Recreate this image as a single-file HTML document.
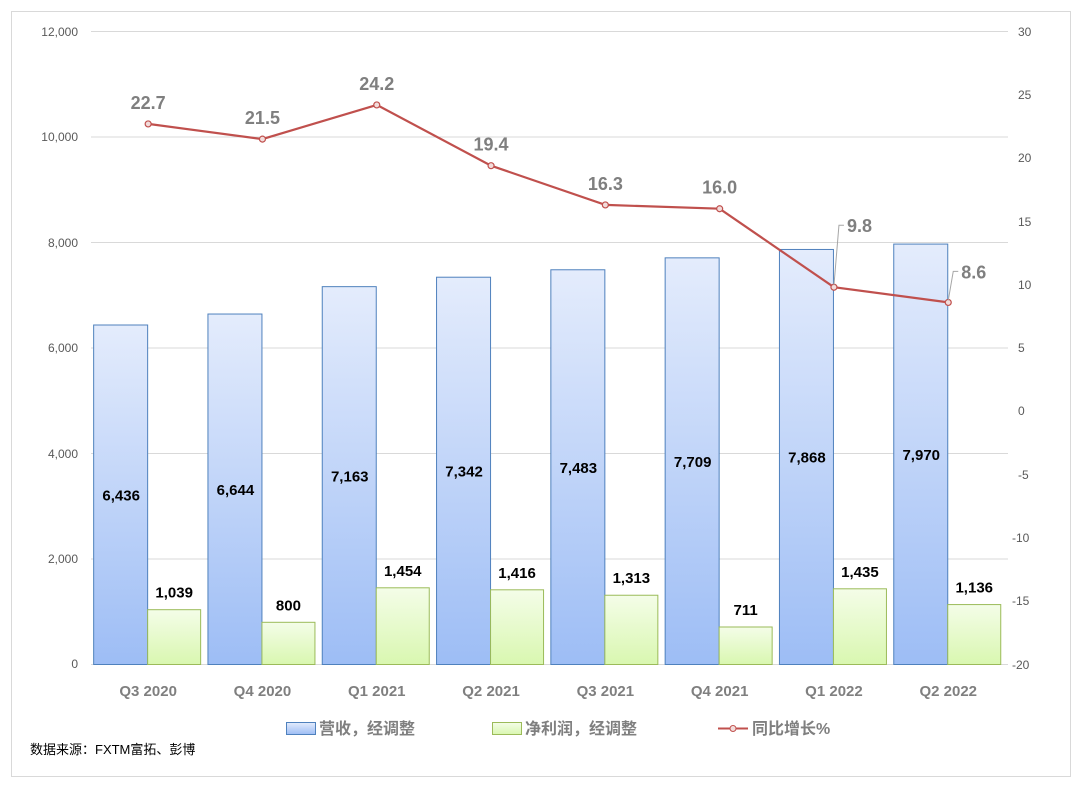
<!DOCTYPE html>
<html><head><meta charset="utf-8"><style>
html,body{margin:0;padding:0;background:#fff;}
svg{display:block;}
text{font-family:"Liberation Sans","Noto Sans CJK SC",sans-serif;}
</style></head><body>
<svg width="1080" height="788" viewBox="0 0 1080 788" xmlns="http://www.w3.org/2000/svg">
<defs>
<linearGradient id="gb" x1="0" y1="0" x2="0" y2="1">
<stop offset="0" stop-color="#e4ecfc"/><stop offset="1" stop-color="#9dbdf5"/></linearGradient>
<linearGradient id="gg" x1="0" y1="0" x2="0" y2="1">
<stop offset="0" stop-color="#f4fde8"/><stop offset="1" stop-color="#d9f7b0"/></linearGradient>
</defs>
<rect x="11.5" y="11.5" width="1059" height="765" fill="#fff" stroke="#d9d9d9"/>
<g stroke="#d9d9d9" stroke-width="1">
<line x1="91" y1="31.5" x2="1008" y2="31.5"/>
<line x1="91" y1="137" x2="1008" y2="137"/>
<line x1="91" y1="242.5" x2="1008" y2="242.5"/>
<line x1="91" y1="348" x2="1008" y2="348"/>
<line x1="91" y1="453.5" x2="1008" y2="453.5"/>
<line x1="91" y1="559" x2="1008" y2="559"/>
<line x1="91" y1="664.5" x2="1008" y2="664.5"/>
</g>
<g font-size="12" fill="#595959" text-anchor="end">
<text x="78" y="36">12,000</text><text x="78" y="141">10,000</text><text x="78" y="247">8,000</text>
<text x="78" y="352">6,000</text><text x="78" y="458">4,000</text><text x="78" y="563">2,000</text><text x="78" y="668">0</text>
</g>
<g font-size="12" fill="#595959" text-anchor="start">
<text x="1018" y="36">30</text><text x="1018" y="99">25</text><text x="1018" y="162">20</text><text x="1018" y="226">15</text>
<text x="1018" y="289">10</text><text x="1018" y="352">5</text><text x="1018" y="415">0</text><text x="1018" y="479">-5</text>
<text x="1012" y="542">-10</text><text x="1012" y="605">-15</text><text x="1012" y="669">-20</text>
</g>
<g id="bars"></g>
<g font-size="15" font-weight="bold" fill="#7f7f7f" text-anchor="middle" id="cats"></g>
<polyline id="ln" fill="none" stroke="#c0504d" stroke-width="2.2"/>
<g id="mk"></g>
<g id="lbl"></g>
<g font-size="16" font-weight="bold" fill="#7f7f7f">
<rect x="286.5" y="722.5" width="29" height="12" fill="url(#gb)" stroke="#4f81bd"/>
<text x="319" y="734">营收，经调整</text>
<rect x="492.5" y="722.5" width="29" height="12" fill="url(#gg)" stroke="#9bbb59"/>
<text x="525" y="734">净利润，经调整</text>
<line x1="718" y1="728.5" x2="748" y2="728.5" stroke="#c0504d" stroke-width="2"/>
<circle cx="733" cy="728.5" r="3" fill="#f2dcdb" stroke="#c0504d"/>
<text x="752" y="734">同比增长%</text>
</g>
<text x="30" y="754" font-size="13" fill="#000">数据来源：FXTM富拓、彭博</text>
</svg>
<script>
var rev=[6436,6644,7163,7342,7483,7709,7868,7970],np=[1039,800,1454,1416,1313,711,1435,1136],
g=[22.7,21.5,24.2,19.4,16.3,16.0,9.8,8.6],cat=["Q3 2020","Q4 2020","Q1 2021","Q2 2021","Q3 2021","Q4 2021","Q1 2022","Q2 2022"];
var NS="http://www.w3.org/2000/svg";
function el(t,a,p,tx){var e=document.createElementNS(NS,t);for(var k in a)e.setAttribute(k,a[k]);if(tx!=null)e.textContent=tx;document.getElementById(p).appendChild(e);return e;}
function y(v){return 664.5-v/12000*633;}
function yr(p){return 664.5-(p+20)/50*633;}
var pts=[];
for(var i=0;i<8;i++){
 var c=91+114.3*(i+0.5);
 el("rect",{x:c-54.5,y:y(rev[i]),width:54,height:664.5-y(rev[i]),fill:"url(#gb)",stroke:"#4f81bd","stroke-width":1},"bars");
 el("rect",{x:c-0.5,y:y(np[i]),width:53,height:664.5-y(np[i]),fill:"url(#gg)",stroke:"#9bbb59","stroke-width":1},"bars");
 var fmt=function(n){return n.toLocaleString("en-US");};
 el("text",{x:c-27,y:(y(rev[i])+664)/2+6,"font-size":15,"font-weight":"bold",fill:"#000","text-anchor":"middle"},"bars",fmt(rev[i]));
 el("text",{x:c+26,y:y(np[i])-12,"font-size":15,"font-weight":"bold",fill:"#000","text-anchor":"middle"},"bars",fmt(np[i]));
 el("text",{x:c,y:696},"cats",cat[i]);
 var py=yr(g[i]);pts.push(c.toFixed(1)+","+py.toFixed(1));
 el("circle",{cx:c,cy:py,r:3,fill:"#f2dcdb",stroke:"#c0504d","stroke-width":1.2},"mk");
 if(i<6){el("text",{x:c,y:py-15,"font-size":18,"font-weight":"bold",fill:"#7f7f7f","text-anchor":"middle"},"lbl",g[i].toFixed(1));}
 else{var off=(i==7?31:0);
  el("polyline",{points:c+","+(py-2)+" "+(c+5)+","+(py-62+off)+" "+(c+10)+","+(py-62+off),fill:"none",stroke:"#a6a6a6"},"lbl");
  el("text",{x:c+13,y:py-55+off,"font-size":18,"font-weight":"bold",fill:"#7f7f7f"},"lbl",g[i].toFixed(1));}
}
document.getElementById("ln").setAttribute("points",pts.join(" "));
</script>
</body></html>
